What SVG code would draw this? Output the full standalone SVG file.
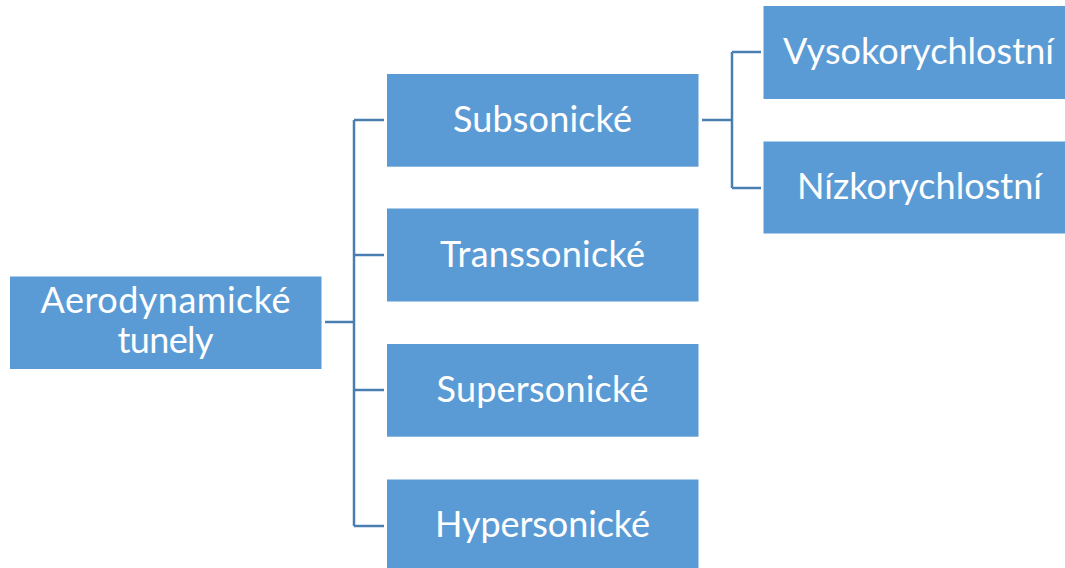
<svg xmlns="http://www.w3.org/2000/svg" width="1065" height="568" viewBox="0 0 1065 568">
  <style>
    .box { fill: #5B9BD5; }
    .lbl { fill: #FFFFFF; font-family: Lato, "Open Sans", "Liberation Sans", sans-serif; font-size: 36px; text-anchor: middle; }
    .link { fill: none; stroke: #4A7EB0; stroke-width: 2.5; }
  </style>
  <rect width="1065" height="568" fill="#FFFFFF"/>

  <!-- connectors -->
  <g id="connectors">
    <path class="link" d="M325 322 H354"/>
    <path class="link" d="M354 120 V526"/>
    <path class="link" d="M354 120 H384"/>
    <path class="link" d="M354 255 H384"/>
    <path class="link" d="M354 390 H384"/>
    <path class="link" d="M354 526 H384"/>
    <path class="link" d="M702 120 H732"/>
    <path class="link" d="M732 52 V188"/>
    <path class="link" d="M732 52 H761"/>
    <path class="link" d="M732 188 H761"/>
  </g>

  <!-- root -->
  <g id="node-aerodynamicke-tunely">
    <rect class="box" x="10" y="276.5" width="311.5" height="92.5"/>
    <text class="lbl" x="165.5" y="313" textLength="250">Aerodynamické</text>
    <text class="lbl" x="165.5" y="353" textLength="96">tunely</text>
  </g>

  <!-- first level -->
  <g id="node-subsonicke">
    <rect class="box" x="387" y="74" width="311.5" height="92.7"/>
    <text class="lbl" x="542.5" y="132" textLength="179">Subsonické</text>
  </g>
  <g id="node-transsonicke">
    <rect class="box" x="387" y="208.5" width="311.5" height="93"/>
    <text class="lbl" x="542.5" y="267" textLength="205">Transsonické</text>
  </g>
  <g id="node-supersonicke">
    <rect class="box" x="387" y="344" width="311.5" height="92.7"/>
    <text class="lbl" x="542.5" y="402" textLength="212">Supersonické</text>
  </g>
  <g id="node-hypersonicke">
    <rect class="box" x="387" y="479.5" width="311.5" height="92.7"/>
    <text class="lbl" x="542.5" y="537" textLength="215">Hypersonické</text>
  </g>

  <!-- second level under Subsonické -->
  <g id="node-vysokorychlostni">
    <rect class="box" x="763.5" y="6" width="311.5" height="93"/>
    <text class="lbl" x="918.5" y="63.5" textLength="271">Vysokorychlostní</text>
  </g>
  <g id="node-nizkorychlostni">
    <rect class="box" x="763.5" y="141.5" width="311.5" height="92"/>
    <text class="lbl" x="919.5" y="199" textLength="245">Nízkorychlostní</text>
  </g>
</svg>
